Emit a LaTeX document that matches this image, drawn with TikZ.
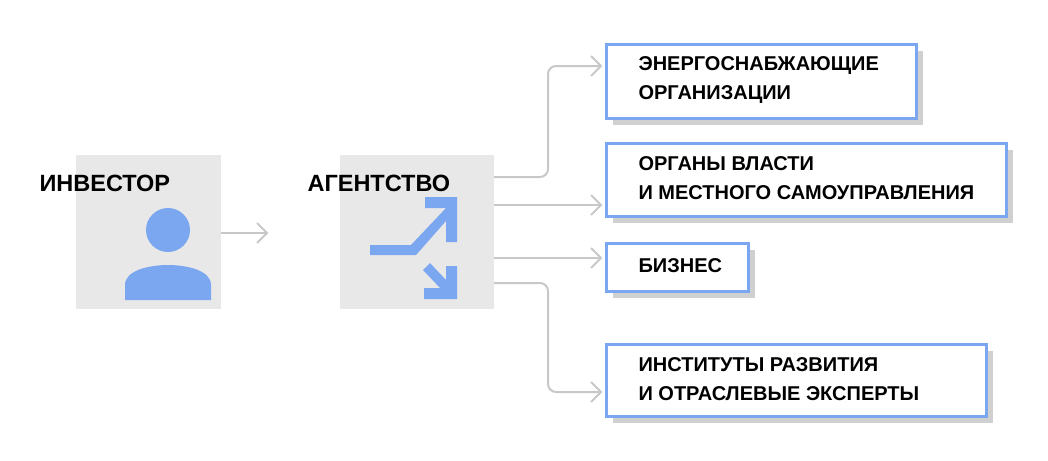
\documentclass[tikz,border=0pt]{standalone}
\usepackage{fontspec}
\setmainfont{Liberation Sans}
\usetikzlibrary{positioning}
\definecolor{iconblue}{HTML}{7BA7F0}
\definecolor{panelgray}{HTML}{E8E8E8}
\definecolor{linegray}{HTML}{C8C8C8}
\definecolor{shadowgray}{HTML}{D0D0D0}
\tikzset{
  panel/.style   = {fill=panelgray, draw=none},
  target/.style  = {draw=iconblue, line width=3pt, fill=white, anchor=north west},
  shade/.style   = {fill=shadowgray, draw=none},
  title/.style   = {font=\bfseries\fontsize{23.5}{26}\selectfont, anchor=west},
  link/.style    = {draw=linegray, line width=2pt, rounded corners=8pt},
  chevron/.style = {draw=linegray, line width=2pt}
}
\newcommand{\tbox}[5]{% name, x, y, w, h
  \fill[shade] (#2+8,#3+8) rectangle ++(#4,#5);
  \node[target, minimum width=#4 pt, minimum height=#5 pt] (#1) at (#2,#3) {};
}
\begin{document}
\begin{tikzpicture}[x=1pt,y=-1pt]
  \useasboundingbox (0,0) rectangle (1048,460);

  % investor panel with person icon
  \fill[panel] (76,155) rectangle (221,309);
  \node[title] (inv) at (36,183) {ИНВЕСТОР};
  \fill[iconblue] (168,230) circle (22);
  \fill[iconblue] (125,300) -- (125,285) .. controls (125,270) and (150,265) .. (168,265)
    .. controls (186,265) and (211,270) .. (211,285) -- (211,300) -- cycle;

  % agency panel with shuffle icon
  \fill[panel] (340,155) rectangle (494,309);
  \node[title] (ag) at (304,183) {АГЕНТСТВО};
  \fill[iconblue] (370,245) -- (411,245) -- (446,208) -- (425,208) -- (425,197) -- (457,197)
    -- (457,242) -- (446,242) -- (446,221) -- (416,255) -- (370,255) -- cycle;
  \fill[iconblue] (423,270) -- (430,263) -- (446,280) -- (446,266) -- (457,266) -- (457,299)
    -- (424,299) -- (424,288) -- (440,288) -- cycle;

  % targets
  \tbox{b1}{605}{43}{310}{74}
  \tbox{b2}{605}{142}{400}{73}
  \tbox{b3}{605}{242}{142}{48}
  \tbox{b4}{605}{343}{380}{72}
  \begin{scope}[every node/.style={anchor=west, align=left, font=\bfseries\fontsize{20}{29}\selectfont}]
    \node (t1) at (635,80) {ЭНЕРГОСНАБЖАЮЩИЕ\\ОРГАНИЗАЦИИ};
    \node (t2) at (635,178) {ОРГАНЫ ВЛАСТИ\\И МЕСТНОГО САМОУПРАВЛЕНИЯ};
    \node (t3) at (635,266) {БИЗНЕС};
    \node (t4) at (635,379) {ИНСТИТУТЫ РАЗВИТИЯ\\И ОТРАСЛЕВЫЕ ЭКСПЕРТЫ};
  \end{scope}

  % connectors
  \coordinate (e0) at (267,233);
  \draw[link] (221,233) -- (e0);
  \foreach \cy in {66,205,258,392}
    \draw[chevron] (591,\cy-10) -- (601,\cy) -- (591,\cy+10);
  \draw[chevron] (267-10,233-10) -- (e0) -- (267-10,233+10);
  \draw[link] (494,177) -- (548,177) -- (548,66) -- (601,66);
  \draw[link] (494,205) -- (601,205);
  \draw[link] (494,258) -- (601,258);
  \draw[link] (494,283) -- (548,283) -- (548,392) -- (601,392);
\end{tikzpicture}
\end{document}
